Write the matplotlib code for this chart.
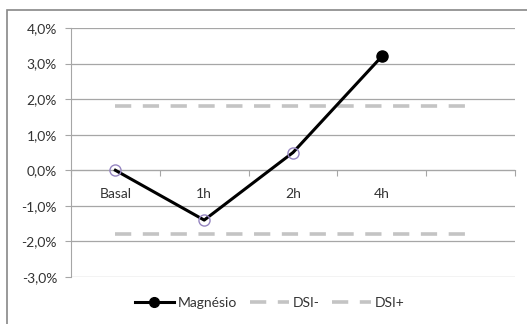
# Line chart of Magnésio variation with DSI- / DSI+ reference lines
import matplotlib.pyplot as plt
from matplotlib.patches import Rectangle
from matplotlib.ticker import FuncFormatter

plt.rcParams['font.family'] = ['Lato', 'DejaVu Sans']

# Data
categories = ['Basal', '1h', '2h', '4h', '']
magnesio = [0.0, -1.4, 0.5, 3.2]
dsi_minus = [-1.8] * 5
dsi_plus = [1.8] * 5

fig = plt.figure(figsize=(5.27, 3.24), dpi=100)
ax = fig.add_axes([71 / 527, 1 - 277 / 324, 444 / 527, 249 / 324])

# outer chart frame
fig.patches.append(Rectangle((7 / 527, -0.05), 1.2, (324 - 10) / 324 + 0.05,
                             transform=fig.transFigure, fill=False,
                             edgecolor='#888888', linewidth=1.2))

x = list(range(len(categories)))

# horizontal gridlines
for v in range(-3, 5):
    ax.axhline(v, color='#a6a6a6', linewidth=0.9, zorder=1)

dash = (0, (4.5, 3.2))
ax.plot(x, dsi_minus, color='#c4c4c4', linewidth=2.6, linestyle=dash, zorder=2, label='DSI-')
ax.plot(x, dsi_plus, color='#c4c4c4', linewidth=2.6, linestyle=dash, zorder=2, label='DSI+')

xm = x[:len(magnesio)]
ax.plot(xm, magnesio, color='black', linewidth=2.2, zorder=3)
ax.plot(xm[:-1], magnesio[:-1], linestyle='none', marker='o', markersize=8,
        markerfacecolor='none', markeredgecolor='#9585c0', markeredgewidth=1.0, zorder=4)
ax.plot(xm[-1:], magnesio[-1:], linestyle='none', marker='o', markersize=8,
        color='black', zorder=4)
# proxy for legend
ax.plot([], [], color='black', linewidth=2.2, marker='o', markersize=7, label='Magnésio')

ax.set_xlim(-0.5, len(categories) - 0.5)
ax.set_ylim(-3, 4)
ax.set_yticks(range(-3, 5))
ax.yaxis.set_major_formatter(FuncFormatter(lambda v, p: f'{v:.1f}%'.replace('.', ',')))

# category axis crossing at zero
ax.spines['bottom'].set_position(('data', 0))
ax.spines['bottom'].set_color('#a6a6a6')
ax.spines['left'].set_color('#a6a6a6')
ax.spines['top'].set_visible(False)
ax.spines['right'].set_visible(False)
ax.set_xticks([i - 0.5 for i in range(len(categories) + 1)])
ax.set_xticklabels([])
ax.set_xticks(x, minor=True)
ax.set_xticklabels(categories, minor=True)
ax.tick_params(axis='x', which='major', length=4, color='#a6a6a6', direction='out')
ax.tick_params(axis='x', which='minor', length=0, pad=13, labelsize=10, labelcolor='#333333')
ax.tick_params(axis='y', length=4, color='#a6a6a6', labelsize=10, labelcolor='#333333', pad=6)

handles, labels = ax.get_legend_handles_labels()
order = [2, 0, 1]
fig.legend([handles[i] for i in order], [labels[i] for i in order],
           loc='center', bbox_to_anchor=(0.512, 1 - 303 / 324), ncol=3, frameon=False,
           fontsize=10, handlelength=2.8, columnspacing=0.9, handletextpad=0.3,
           labelcolor='#333333')

fig.savefig('out.png', dpi=100)
